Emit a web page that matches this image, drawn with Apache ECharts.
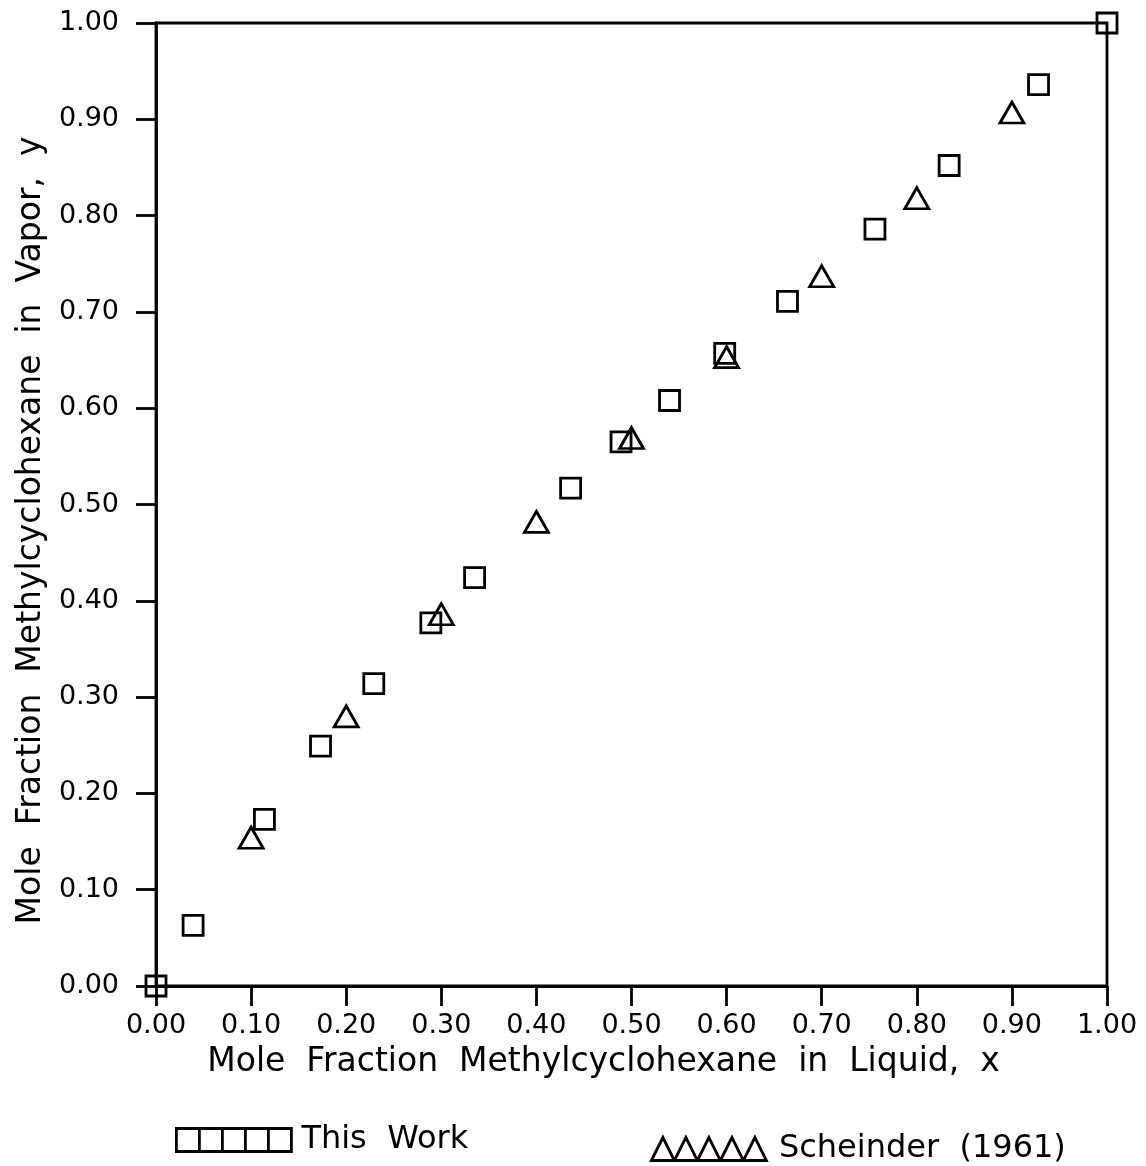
<!DOCTYPE html>
<html>
<head>
<meta charset="utf-8">
<script src="https://cdn.jsdelivr.net/npm/echarts@6/dist/echarts.min.js"></script>
<style>
  html, body { margin: 0; padding: 0; background: #fff; }
  #chart { width: 1146px; height: 1166px; }
</style>
</head>
<body>
<div id="chart"></div>
<script>
// Vapor-liquid equilibrium, methylcyclohexane mole fractions
const thisWorkX = [0.000, 0.039, 0.114, 0.173, 0.229, 0.289, 0.335, 0.436, 0.489, 0.540, 0.598, 0.664, 0.756, 0.834, 0.928, 1.000];
const thisWorkY = [0.000, 0.063, 0.173, 0.249, 0.314, 0.377, 0.424, 0.517, 0.565, 0.608, 0.657, 0.711, 0.786, 0.852, 0.936, 1.000];

const scheinderX = [0.10, 0.20, 0.30, 0.40, 0.50, 0.60, 0.70, 0.80, 0.90];
const scheinderY = [0.154, 0.280, 0.386, 0.482, 0.569, 0.653, 0.737, 0.818, 0.907];

const seriesNames = ['This  Work', 'Scheinder  (1961)'];
const xTitle = 'Mole  Fraction  Methylcyclohexane  in  Liquid,  x';
const yTitle = 'Mole  Fraction  Methylcyclohexane  in  Vapor,  y';

const FONT = 'DejaVu Sans';
const INK = '#000';

// legend icons: a row of five open squares / five open triangles
const squaresIcon = 'path://M0,0H10V10H0Z M10,0H20V10H10Z M20,0H30V10H20Z M30,0H40V10H30Z M40,0H50V10H40Z';
const trianglesIcon = 'path://M0,10L5,0L10,10Z M10,10L15,0L20,10Z M20,10L25,0L30,10Z M30,10L35,0L40,10Z M40,10L45,0L50,10Z';

const zip = (xs, ys) => xs.map((x, i) => [x, ys[i]]);

const chart = echarts.init(document.getElementById('chart'), null, { renderer: 'canvas' });

const axisCommon = {
  type: 'value',
  min: 0,
  max: 1,
  interval: 0.1,
  splitLine: { show: false },
  axisLine: { show: true, onZero: false, lineStyle: { color: INK, width: 2.8 } },
  axisTick: { show: true, inside: false, length: 20, lineStyle: { color: INK, width: 2.8 } },
  axisLabel: {
    color: INK,
    fontFamily: FONT,
    fontSize: 27,
    formatter: v => v.toFixed(2)
  },
  nameLocation: 'middle',
  nameTextStyle: { color: INK, fontFamily: FONT, fontSize: 33 }
};

const markerStyle = { color: 'transparent', borderColor: INK, borderWidth: 2.8, opacity: 1 };
const legendText = { color: INK, fontFamily: FONT, fontSize: 32, padding: [0, 0, 0, 5] };

chart.setOption({
  animation: false,
  backgroundColor: '#fff',
  grid: {
    left: 156,
    right: 39,
    top: 23,
    bottom: 180,
    show: true,
    borderColor: INK,
    borderWidth: 2.8,
    backgroundColor: 'transparent'
  },
  xAxis: Object.assign({}, axisCommon, {
    name: xTitle,
    nameGap: 60,
    nameTextStyle: Object.assign({}, axisCommon.nameTextStyle, { padding: [0, 56, 0, 0] }),
    axisLabel: Object.assign({}, axisCommon.axisLabel, { margin: 26 })
  }),
  yAxis: Object.assign({}, axisCommon, {
    name: yTitle,
    nameGap: 107,
    nameTextStyle: Object.assign({}, axisCommon.nameTextStyle, { padding: [0, 52, 0, 0] }),
    axisLabel: Object.assign({}, axisCommon.axisLabel, { margin: 37 })
  }),
  legend: [
    {
      data: [{ name: seriesNames[0], icon: squaresIcon }],
      left: 175,
      top: 1124,
      padding: 0,
      itemWidth: 115,
      itemHeight: 23,
      itemStyle: markerStyle,
      textStyle: legendText,
      selectedMode: false
    },
    {
      data: [{ name: seriesNames[1], icon: trianglesIcon }],
      left: 650,
      top: 1133,
      padding: 0,
      itemWidth: 120,
      itemHeight: 23,
      itemStyle: markerStyle,
      textStyle: legendText,
      selectedMode: false
    }
  ],
  series: [
    {
      name: seriesNames[0],
      type: 'scatter',
      clip: false,
      symbol: 'rect',
      symbolSize: 20,
      itemStyle: markerStyle,
      emphasis: { disabled: true },
      data: zip(thisWorkX, thisWorkY)
    },
    {
      name: seriesNames[1],
      type: 'scatter',
      clip: false,
      symbol: 'triangle',
      symbolSize: [24, 21],
      itemStyle: markerStyle,
      emphasis: { disabled: true },
      data: zip(scheinderX, scheinderY)
    }
  ]
});
</script>
</body>
</html>
